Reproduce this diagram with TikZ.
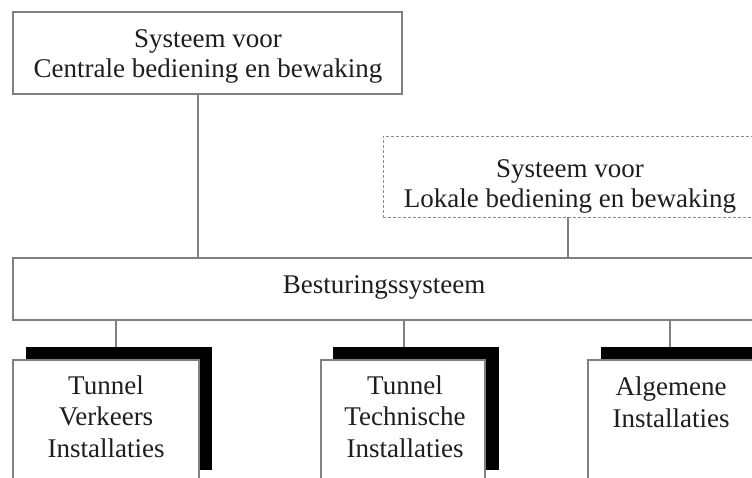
\documentclass[tikz,border=0pt]{standalone}
\usepackage{fontspec}
\setmainfont{Liberation Serif}
\definecolor{edge}{RGB}{128,128,128}
\definecolor{dashedge}{RGB}{140,140,140}
\definecolor{inktext}{RGB}{30,30,30}
\begin{document}
\begin{tikzpicture}[x=1pt,y=-1pt,
  every node/.style={font=\fontsize{27}{31}\selectfont, text=inktext, align=center},
  plainbox/.style={draw=edge, line width=1.3pt, fill=white, rectangle, inner sep=0pt},
  dashbox/.style={draw=dashedge, line width=0.9pt, dash pattern=on 3pt off 2pt, fill=white, rectangle, inner sep=0pt},
  shadowbox/.style={fill=black, draw=none, rectangle, inner sep=0pt},
  link/.style={draw=edge, line width=1.3pt},
  lbl/.style={inner sep=0pt, anchor=base}
]
\useasboundingbox (0,0) rectangle (752,477);
\clip (0,0) rectangle (752,477);
\fill[white] (0,0) rectangle (752,477);

% boxes as nodes
\node[plainbox, minimum width=389pt, minimum height=82pt] (central) at (207.5,53) {};
\node[dashbox, minimum width=380pt, minimum height=81pt] (lokaal) at (573,176.5) {};
\node[plainbox, minimum width=752pt, minimum height=62pt] (bus) at (389,289) {};

\coordinate (xc) at (198,0);
\coordinate (xl) at (568,0);
\coordinate (x1) at (116,0);
\coordinate (x2) at (404,0);
\coordinate (x3) at (670,0);

% shadows
\node[shadowbox, minimum width=186pt, minimum height=123pt] (sh1) at (119,408.5) {};
\node[shadowbox, minimum width=166pt, minimum height=123pt] (sh2) at (416,408.5) {};
\node[shadowbox, minimum width=166pt, minimum height=123pt] (sh3) at (684,408.5) {};

% connectors
\draw[link] (central.south -| xc) -- (bus.north -| xc);
\draw[link] (lokaal.south -| xl) -- (bus.north -| xl);
\draw[link] (bus.south -| x1) -- (sh1.north -| x1);
\draw[link] (bus.south -| x2) -- (sh2.north -| x2);
\draw[link] (bus.south -| x3) -- (sh3.north -| x3);

% redraw boxes on top of connector ends
\node[plainbox, minimum width=389pt, minimum height=82pt] at (central) {};
\node[dashbox, minimum width=380pt, minimum height=81pt] at (lokaal) {};
\node[plainbox, minimum width=752pt, minimum height=62pt] at (bus) {};

% installation boxes
\node[plainbox, minimum width=186pt, minimum height=123pt] (tvi) at (106,421.5) {};
\node[plainbox, minimum width=164pt, minimum height=123pt] (tti) at (403,421.5) {};
\node[plainbox, minimum width=166pt, minimum height=123pt] (ai) at (671,421.5) {};

% texts
\node[lbl] (t1a) at (208,47) {Systeem voor};
\node[lbl] (t1b) at (208,77) {Centrale bediening en bewaking};
\node[lbl] (t2a) at (570,177) {Systeem voor};
\node[lbl] (t2b) at (570,207) {Lokale bediening en bewaking};
\node[lbl] (t3) at (384,293) {Besturingssysteem};

\node[lbl] (a1) at (106,394) {Tunnel};
\node[lbl] (a2) at (106,425) {Verkeers};
\node[lbl] (a3) at (106,457) {Installaties};

\node[lbl] (b1) at (405,394) {Tunnel};
\node[lbl] (b2) at (405,425) {Technische};
\node[lbl] (b3) at (405,457) {Installaties};

\node[lbl] (c1) at (671,395) {Algemene};
\node[lbl] (c2) at (671,427) {Installaties};
\end{tikzpicture}
\end{document}
